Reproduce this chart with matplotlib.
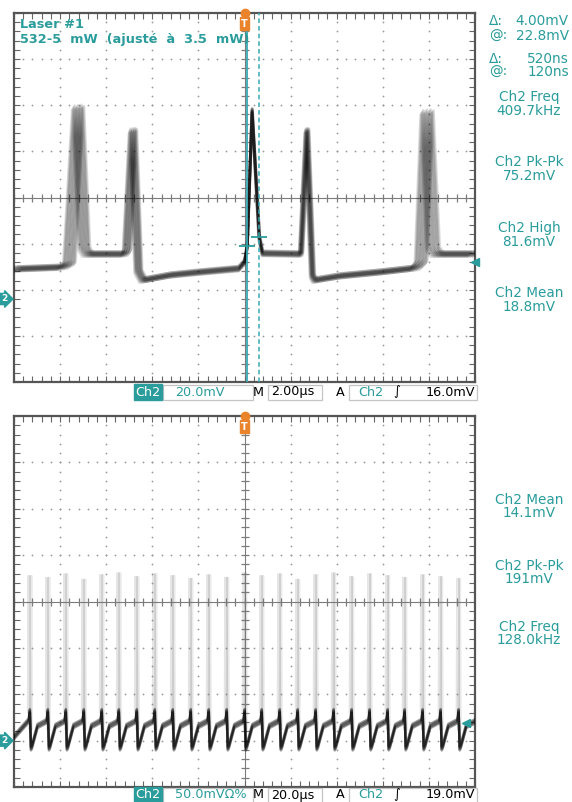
import numpy as np
import matplotlib
matplotlib.use("Agg")
import matplotlib.pyplot as plt
from matplotlib.patches import Rectangle
from matplotlib.transforms import blended_transform_factory

# ----- Trace data -----
# top screen: 2.00 us/div, 20.0 mV/div, trace vertices (time in us, level in mV)
top_t = [-10.0, -7.9, -7.6, -7.22, -6.95, -6.8, -5.2, -5.1, -4.84, -4.6, -4.4,
         -3.2, -1.9, -0.25, 0.0, 0.12, 0.33, 0.64, 0.78, 2.45, 2.71, 2.95,
         3.05, 4.15, 5.9, 7.4, 7.66, 7.92, 8.18, 8.35, 10.0]
top_mv = [13.0, 13.8, 15.5, 83.0, 22.0, 19.5, 19.5, 21.0, 73.0, 12.0, 8.2,
          10.4, 11.7, 13.2, 16.0, 22.8, 81.6, 26.8, 19.8, 19.5, 73.0, 10.0,
          8.2, 10.0, 11.7, 13.4, 16.0, 81.0, 22.0, 19.5, 19.5]

# cursors (time in us, level in mV)
cursor_t = [0.12, 0.64]
cursor_mv = [22.8, 26.8]

# bottom screen: 20.0 us/div, 50.0 mV/div, one spike per 7.8 us
bot_spike_t = [-93.0, -85.2, -77.4, -69.6, -61.8, -54.4, -46.6, -38.8, -31.0,
               -23.2, -15.4, -7.6, 0.2, 7.6, 15.4, 23.2, 31.0, 38.8, 46.6,
               54.4, 62.2, 69.6, 77.4, 85.2, 93.0]
bot_spike_mv = [178, 176, 180, 174, 179, 181, 177, 180, 178, 175, 179, 176,
                181, 178, 180, 174, 179, 181, 177, 180, 178, 176, 179, 177, 175]
# shape of the baseline between spikes (offset from spike in us, mV)
bot_shape_dt = [-0.6, -0.1, 0.35, 0.8, 3.2, 7.0]
bot_shape_mv = [22, 32, -8, -6, 16, 21]

top_readouts = [("Ch2 Freq", "409.7kHz"), ("Ch2 Pk-Pk", "75.2mV"),
                ("Ch2 High", "81.6mV"), ("Ch2 Mean", "18.8mV")]
bot_readouts = [("Ch2 Mean", "14.1mV"), ("Ch2 Pk-Pk", "191mV"),
                ("Ch2 Freq", "128.0kHz")]

TEAL = "#2a9c9c"
ORANGE = "#ea842c"
W, H = 572, 802

fig = plt.figure(figsize=(W / 100, H / 100), dpi=100)
fig.patch.set_facecolor("white")


def fx(x):
    return x / W


def fy(y):
    return 1 - y / H


ax1 = fig.add_axes([fx(14), fy(382), 461 / W, 369 / H])
ax2 = fig.add_axes([fx(14), fy(787), 461 / W, 371 / H])


def graticule(ax, x0, x1, y0, y1):
    ax.set_xlim(x0, x1)
    ax.set_ylim(y0, y1)
    dx = (x1 - x0) / 10
    dy = (y1 - y0) / 8
    xc = (x0 + x1) / 2
    yc = (y0 + y1) / 2
    fine_x = np.linspace(x0, x1, 51)
    fine_y = np.linspace(y0, y1, 41)
    for i in range(1, 10):
        if i != 5:
            ax.plot(np.full(41, x0 + i * dx), fine_y, ls="none", marker="o",
                    ms=1.3, mew=0, color="#9a9a9a", zorder=1)
    for j in range(1, 8):
        if j != 4:
            ax.plot(fine_x, np.full(51, y0 + j * dy), ls="none", marker="o",
                    ms=1.3, mew=0, color="#9a9a9a", zorder=1)
    # centre crosshair with minor ticks
    ax.plot(fine_x, np.full(51, yc), color="#7c7c7c", lw=0.8, marker="|",
            ms=6, mew=0.9, zorder=1)
    ax.plot(np.full(41, xc), fine_y, color="#7c7c7c", lw=0.8, marker="_",
            ms=6, mew=0.9, zorder=1)
    ax.set_xticks(fine_x)
    ax.set_yticks(fine_y)
    ax.tick_params(direction="in", length=4, width=0.8, color="#666666",
                   top=True, right=True, labelbottom=False, labelleft=False)
    for s in ax.spines.values():
        s.set_color("#555555")
        s.set_linewidth(1.6)


graticule(ax1, -10, 10, -36, 124)
graticule(ax2, -100, 100, -50, 350)

# ----- top trace, drawn as several persistence sweeps -----
tt = np.array(top_t)
tm = np.array(top_mv)
offs = np.linspace(-1, 1, 15)
for k, f in enumerate(offs):
    ax1.plot(tt + f * 0.035 * np.abs(tt), tm + 1.1 * offs[(k * 4) % 15],
             color="black", alpha=0.13, lw=2.1, zorder=3)

# cursors
ax1.axvline(cursor_t[0], color="#3aa9b4", lw=1.3, zorder=4)
ax1.axvline(cursor_t[1], color="#3aa9b4", lw=1.1, ls=(0, (3, 2)), zorder=4)
ax1.plot(cursor_t, cursor_mv, ls="none", marker="_", ms=12, mew=1.3,
         color=TEAL, zorder=5)

# ----- bottom trace -----
bt = [-100.0]
bm = [4.0]
for st in bot_spike_t:
    for d, v in zip(bot_shape_dt, bot_shape_mv):
        bt.append(st + d)
        bm.append(v)
bt = np.array(bt)
bm = np.array(bm)
for dv in [-2.5, -1.0, 0.5, 2.0]:
    ax2.plot(bt, bm + dv, color="black", alpha=0.4, lw=1.8, zorder=3)
for st, pk in zip(bot_spike_t, bot_spike_mv):
    for dd, a in [(-0.9, 0.18), (0.0, 0.32), (0.7, 0.14)]:
        ax2.plot([st + dd - 0.25, st + dd, st + dd + 0.3], [30, pk, 12],
                 color="#707070", alpha=a, lw=0.9, zorder=2)

# ----- markers: trigger position, trigger level, ground -----
for ax in (ax1, ax2):
    ax.plot([0], [1.0], marker="o", ms=6, color=ORANGE, clip_on=False,
            transform=blended_transform_factory(ax.transData, ax.transAxes),
            zorder=6)
    ax.text(0, 0.985, "T", transform=blended_transform_factory(ax.transData, ax.transAxes),
            ha="center", va="top", fontsize=7, fontweight="bold", color="white",
            bbox=dict(boxstyle="square,pad=0.15", fc=ORANGE, ec=ORANGE), zorder=6)
    ax.text(-0.015, 0, "2", transform=blended_transform_factory(ax.transAxes, ax.transData),
            ha="right", va="center", fontsize=6.5, fontweight="bold", color="white",
            bbox=dict(boxstyle="rarrow,pad=0.12", fc=TEAL, ec=TEAL), clip_on=False)

ax1.plot([10], [16.0], marker="<", ms=6, color=TEAL, clip_on=False, zorder=6)
ax2.plot([96], [19.0], marker="<", ms=6, color=TEAL, clip_on=False, zorder=6)

# ----- text -----
fs = 9.8
fig.text(fx(20), fy(25), "Laser #1", color=TEAL, fontsize=9.3, va="center",
         fontweight="bold")
fig.text(fx(20), fy(40), "532-5  mW  (ajusté  à  3.5  mW)", color=TEAL,
         fontsize=9.3, va="center", fontweight="bold")

for y, lab, val in [(21, "\u0394:", "4.00mV"), (36, "@:", "22.8mV"),
                    (59, "\u0394:", "520ns"), (72, "@:", "120ns")]:
    fig.text(fx(489), fy(y), lab, color=TEAL, fontsize=fs, va="center")
    fig.text(fx(569), fy(y), val, color=TEAL, fontsize=fs, va="center",
             ha="right")

for y, (a, b) in zip([97, 162, 228, 293], top_readouts):
    fig.text(fx(529), fy(y), a, color=TEAL, fontsize=fs, ha="center", va="center")
    fig.text(fx(529), fy(y + 14), b, color=TEAL, fontsize=fs, ha="center", va="center")

for y, (a, b) in zip([500, 566, 627], bot_readouts):
    fig.text(fx(529), fy(y), a, color=TEAL, fontsize=fs, ha="center", va="center")
    fig.text(fx(529), fy(y + 13), b, color=TEAL, fontsize=fs, ha="center", va="center")


def status_bar(y, scale, trig):
    sf = 9.2
    top = y - 7
    for x0, x1 in [(163, 253), (268, 322), (349, 477)]:
        fig.patches.append(Rectangle((fx(x0), fy(top + 15)), (x1 - x0) / W, 15 / H,
                                     transform=fig.transFigure, fill=False,
                                     ec="#c4c4c4", lw=0.9))
    fig.text(fx(148), fy(y), "Ch2", color="white", fontsize=sf, ha="center",
             va="center", bbox=dict(boxstyle="square,pad=0.08", fc=TEAL, ec=TEAL))
    fig.text(fx(175), fy(y), scale, color=TEAL, fontsize=sf, va="center")
    fig.text(fx(258), fy(y), "M", color="black", fontsize=sf, ha="center", va="center")
    fig.text(fx(271), fy(y), "2.00\u00b5s" if y < 500 else "20.0\u00b5s",
             color="black", fontsize=sf, va="center")
    fig.text(fx(340), fy(y), "A", color="black", fontsize=sf, ha="center", va="center")
    fig.text(fx(358), fy(y), "Ch2", color=TEAL, fontsize=sf, va="center")
    fig.text(fx(397), fy(y), "\u222b", color="black", fontsize=sf, ha="center",
             va="center", style="italic")
    fig.text(fx(475), fy(y), trig, color="black", fontsize=sf, ha="right", va="center")


status_bar(392, "20.0mV", "16.0mV")
status_bar(795, "50.0mV\u03a9%", "19.0mV")

fig.savefig("out.png", dpi=100, facecolor="white")
